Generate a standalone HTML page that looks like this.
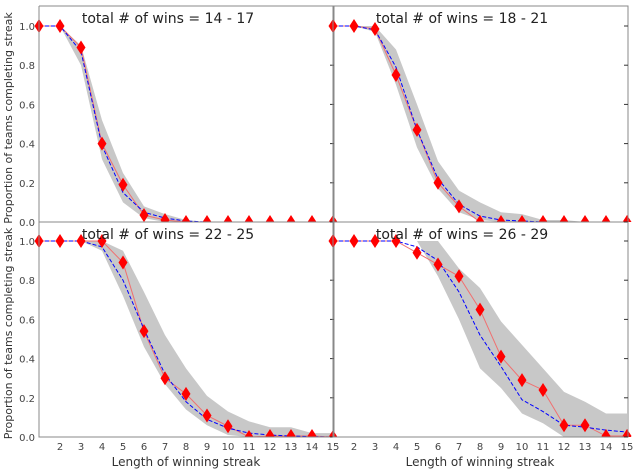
<!DOCTYPE html>
<html><head><meta charset="utf-8"><style>
body{margin:0;background:#fff}
svg{display:block;font-family:"DejaVu Sans","Liberation Sans",sans-serif}
</style></head><body>
<svg id="c" width="640" height="472" viewBox="0 0 640 472"></svg>
<script>
const xs=[1,2,3,4,5,6,7,8,9,10,11,12,13,14,15];
const titles=["total # of wins = 14 - 17","total # of wins = 18 - 21","total # of wins = 22 - 25","total # of wins = 26 - 29"];
const yTicks=[0,0.2,0.4,0.6,0.8,1.0];
const xTicks=[2,3,4,5,6,7,8,9,10,11,12,13,14,15];
const red1=[1,1,0.89,0.40,0.19,0.035,0.01,0,0,0,0,0,0,0,0];
const blue1=[1,1,0.87,0.39,0.15,0.05,0.02,0.005,0,0,0,0,0,0,0];
const lo1=[1,1,0.80,0.32,0.10,0.02,0,0,0,0,0,0,0,0,0];
const hi1=[1,1,0.90,0.52,0.25,0.08,0.04,0.01,0,0,0,0,0,0,0];
const red2=[1,1,0.985,0.75,0.47,0.20,0.08,0,0,0,0,0,0,0,0];
const blue2=[1,1,0.98,0.79,0.47,0.22,0.09,0.03,0.01,0.005,0,0,0,0,0];
const lo2=[1,1,0.97,0.70,0.38,0.17,0.05,0.01,0,0,0,0,0,0,0];
const hi2=[1,1,1,0.88,0.60,0.31,0.16,0.10,0.05,0.04,0.01,0.01,0,0,0];
const red3=[1,1,1,1,0.89,0.54,0.30,0.22,0.11,0.055,0,0.005,0.005,0.005,0];
const blue3=[1,1,1,0.97,0.80,0.55,0.32,0.18,0.09,0.045,0.02,0.01,0.005,0.002,0];
const lo3=[1,1,1,0.95,0.72,0.46,0.27,0.14,0.06,0.01,0,0,0,0,0];
const hi3=[1,1,1,1,0.95,0.74,0.52,0.35,0.21,0.13,0.08,0.05,0.05,0.02,0.02];
const red4=[1,1,1,1,0.94,0.88,0.82,0.65,0.41,0.29,0.24,0.06,0.06,0.005,0.005];
const blue4=[1,1,1,1,0.97,0.90,0.74,0.52,0.36,0.19,0.13,0.06,0.05,0.035,0.025];
const lo4=[1,1,1,1,1,0.82,0.60,0.35,0.25,0.12,0.07,0,0,0,0];
const hi4=[1,1,1,1,1,1,0.86,0.76,0.59,0.47,0.35,0.23,0.18,0.12,0.12];
const panels=[[red1,blue1,lo1,hi1],[red2,blue2,lo2,hi2],[red3,blue3,lo3,hi3],[red4,blue4,lo4,hi4]];
const NS="http://www.w3.org/2000/svg";
const svg=document.getElementById('c');
function mk(t,a,p){const e=document.createElementNS(NS,t);for(const k in a)e.setAttribute(k,a[k]);(p||svg).appendChild(e);return e;}
const geo=[{l:39,r:333,t:6,y1:26,y0:222},{l:333,r:627,t:6,y1:26,y0:222},{l:39,r:333,t:222,y1:241,y0:437},{l:333,r:627,t:222,y1:241,y0:437}];
const defs=mk('defs',{});
panels.forEach((d,i)=>{
 const g=geo[i];
 const cp=mk('clipPath',{id:'cp'+i},defs);
 mk('rect',{x:g.l-6,y:g.t-10,width:g.r-g.l+12,height:g.y0-g.t+10},cp);
 const X=v=>g.l+(v-1)*(g.r-g.l)/14;
 const Y=v=>g.y0-v*(g.y0-g.y1);
 const grp=mk('g',{});
 
 
 const plot=mk('g',{'clip-path':'url(#cp'+i+')'},grp);
 const [red,blue,lo,hi]=d;
 let pts=xs.map((x,k)=>X(x)+','+Y(hi[k]));
 pts=pts.concat(xs.slice().reverse().map((x,k)=>X(x)+','+Y(lo[14-k])));
 const band=mk('polygon',{points:pts.join(' '),fill:'#c8c8c8'},plot);
 
 
 const rl=mk('polyline',{points:xs.map((x,k)=>X(x)+','+Y(red[k])).join(' '),fill:'none',stroke:'#f07070','stroke-width':1},plot);
 
 
 const bl=mk('polyline',{points:xs.map((x,k)=>X(x)+','+Y(blue[k])).join(' '),fill:'none',stroke:'#0000ff','stroke-width':1,'stroke-dasharray':'4,2'},plot);
 
 
 xs.forEach((x,k)=>{const cx=X(x),cy=Y(red[k]);
  const m=mk('polygon',{points:`${cx},${cy-7} ${cx+4.5},${cy} ${cx},${cy+7} ${cx-4.5},${cy}`,fill:'#ff0000'},plot);
  
  });
 const sp=mk('path',{d:`M${g.l},${g.t}V${g.y0}H${g.r+1}V${g.t}`+(i<2?`H${g.l}`:''),fill:'none',stroke:'#888','stroke-width':1},grp);
 
 
 yTicks.forEach(v=>{
  mk('line',{x1:g.r-3,x2:g.r+1,y1:Y(v),y2:Y(v),stroke:'#333'},grp);
  if(i%2===0){const t=mk('text',{x:g.l-4,y:Y(v)+4,'text-anchor':'end','font-size':10,fill:'#444'},grp);t.textContent=v.toFixed(1);
   }
 });
 if(i>=2){xTicks.forEach(v=>{const t=mk('text',{x:X(v),y:g.y0+13,'text-anchor':'middle','font-size':10,fill:'#444'},grp);t.textContent=v;
   });
  const xl=mk('text',{x:(g.l+g.r)/2,y:g.y0+29,'text-anchor':'middle','font-size':12,fill:'#333'},grp);xl.textContent='Length of winning streak';
  }
 if(i%2===0){const cy=(g.y0+g.t)/2+4;const yl=mk('text',{x:12,y:cy,'text-anchor':'middle','font-size':11,fill:'#333',transform:`rotate(-90 12 ${cy})`},grp);yl.textContent='Proportion of teams completing streak';
  }
 const tt=mk('text',{x:(g.l+g.r)/2-18,y:g.t+17,'text-anchor':'middle','font-size':14,fill:'#222'},grp);tt.textContent=titles[i];
 
});
</script>
</body></html>
